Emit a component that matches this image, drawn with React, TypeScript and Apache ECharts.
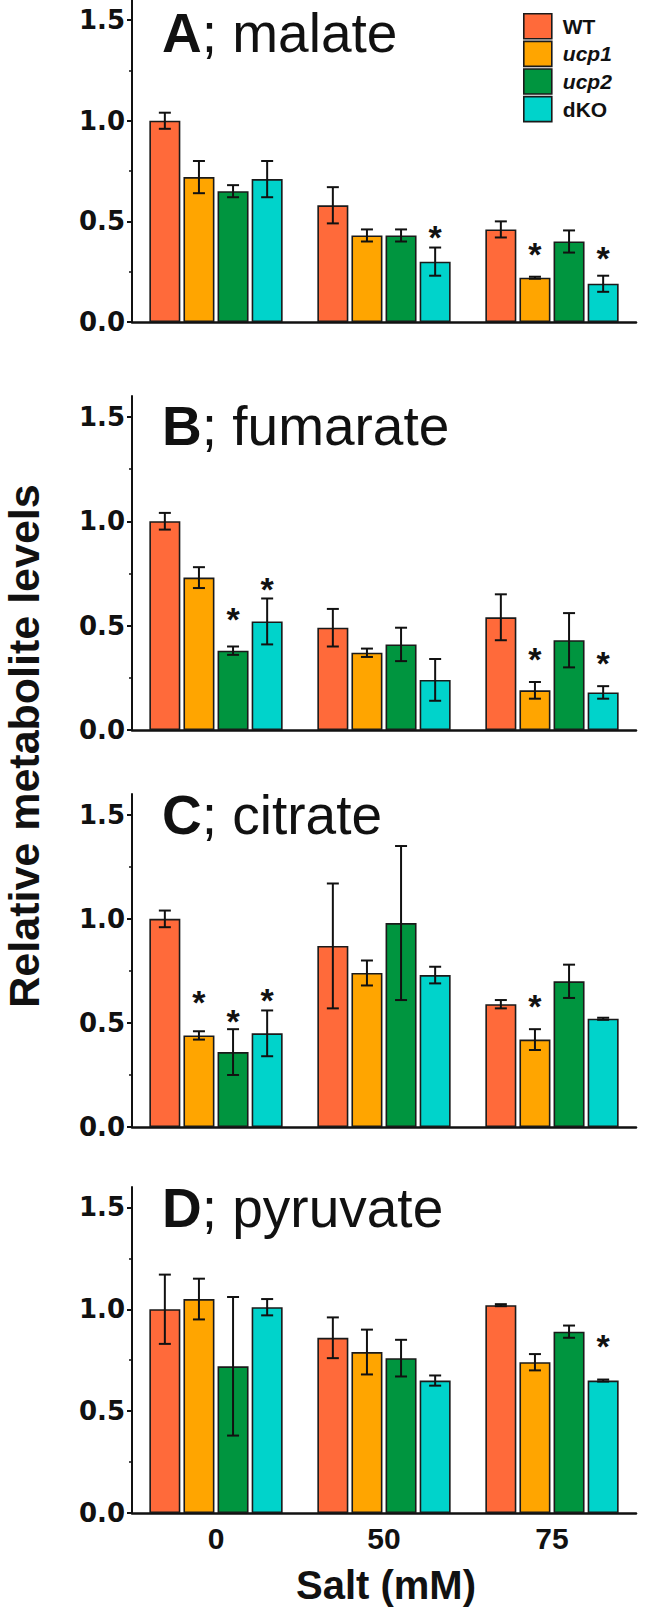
import React, { useEffect, useRef } from 'react';
import * as echarts from 'echarts';

const FONT = '"Liberation Sans", Arial, Helvetica, sans-serif';
const WIDE_FONT = '"DejaVu Sans", "Liberation Sans", Arial, sans-serif';

const salt = ['0', '50', '75'];
const genotypes = ['WT', 'ucp1', 'ucp2', 'dKO'];
const colors = ['#FF6A3A', '#FFA500', '#00953F', '#00D3CB'];
const yTicks = [0, 0.5, 1.0, 1.5];
const yMinorTicks = [0.25, 0.75, 1.25];

// [genotype][salt]
const malateMean = [[1.0, 0.58, 0.46], [0.72, 0.43, 0.22], [0.65, 0.43, 0.40], [0.71, 0.30, 0.19]];
const malateErr = [[0.04, 0.09, 0.04], [0.08, 0.03, 0.005], [0.03, 0.03, 0.055], [0.09, 0.07, 0.04]];
const malateStars = [[1, 3, 0.45], [2, 1, 0.37], [2, 3, 0.35]];

const fumarateMean = [[1.0, 0.49, 0.54], [0.73, 0.37, 0.19], [0.38, 0.41, 0.43], [0.52, 0.24, 0.18]];
const fumarateErr = [[0.04, 0.09, 0.11], [0.05, 0.02, 0.04], [0.02, 0.08, 0.13], [0.11, 0.10, 0.03]];
const fumarateStars = [[0, 2, 0.56], [0, 3, 0.705], [2, 1, 0.37], [2, 3, 0.35]];

const citrateMean = [[1.0, 0.87, 0.59], [0.44, 0.74, 0.42], [0.36, 0.98, 0.70], [0.45, 0.73, 0.52]];
const citrateErr = [[0.04, 0.30, 0.02], [0.02, 0.06, 0.05], [0.11, 0.37, 0.08], [0.11, 0.04, 0.005]];
const citrateStars = [[0, 1, 0.63], [0, 2, 0.54], [0, 3, 0.64], [2, 1, 0.61]];

const pyruvateMean = [[1.0, 0.86, 1.02], [1.05, 0.79, 0.74], [0.72, 0.76, 0.89], [1.01, 0.65, 0.65]];
const pyruvateErr = [[0.17, 0.10, 0.005], [0.10, 0.11, 0.04], [0.34, 0.09, 0.03], [0.04, 0.025, 0.005]];
const pyruvateStars = [[2, 3, 0.85]];

const panelLetters = ['A', 'B', 'C', 'D'];
const panelNames = ['; malate', '; fumarate', '; citrate', '; pyruvate'];

const yTitle = 'Relative metabolite levels';
const xTitle = 'Salt (mM)';

const means = [malateMean, fumarateMean, citrateMean, pyruvateMean];
const errs = [malateErr, fumarateErr, citrateErr, pyruvateErr];
const stars = [malateStars, fumarateStars, citrateStars, pyruvateStars];

// layout
const GRID_LEFT = 132;
const GRID_WIDTH = 504;
const gridTops = [0, 396, 794, 1187];
const gridHeights = [322, 334, 333, 326];
const titleY = [33, 426, 815, 1208];
const BAR_W = 31;
const BAR_STEP = 34.1;

export default function App() {
  const ref = useRef<HTMLDivElement>(null);

  useEffect(() => {
    if (!ref.current) return;
    const chart = echarts.init(ref.current, null, { renderer: 'svg' });

    const grids: any[] = [];
    const xAxes: any[] = [];
    const yAxes: any[] = [];
    const series: any[] = [];
    const graphics: any[] = [];

    for (let p = 0; p < 4; p++) {
      grids.push({ left: GRID_LEFT, width: GRID_WIDTH, top: gridTops[p], height: gridHeights[p], containLabel: false });
      xAxes.push({
        gridIndex: p,
        type: 'category',
        data: salt,
        axisLine: { show: true, lineStyle: { color: '#111', width: 2.5 } },
        axisTick: { show: false },
        axisLabel: {
          show: p === 3,
          fontSize: 30,
          fontWeight: 'bold',
          fontFamily: FONT,
          color: '#111',
          margin: 10,
        },
        splitLine: { show: false },
      });
      yAxes.push({
        gridIndex: p,
        type: 'value',
        min: 0,
        max: 1.6,
        interval: 0.5,
        axisLine: { show: true, lineStyle: { color: '#111', width: 2 } },
        axisTick: { show: true, length: 5, lineStyle: { color: '#111', width: 2 }, customValues: yTicks },
        axisLabel: {
          customValues: yTicks,
          formatter: (v: number) => v.toFixed(1),
          fontSize: 26,
          fontWeight: 'bold',
          fontFamily: WIDE_FONT,
          color: '#111',
          margin: 7,
        },
        splitLine: { show: false },
      });
      yAxes.push({
        gridIndex: p,
        type: 'value',
        min: 0,
        max: 1.6,
        position: 'left',
        axisLine: { show: false },
        axisTick: { show: true, length: 3, lineStyle: { color: '#111', width: 1.5 }, customValues: yMinorTicks },
        axisLabel: { show: false },
        splitLine: { show: false },
      });

      for (let g = 0; g < 4; g++) {
        series.push({
          type: 'bar',
          name: genotypes[g],
          xAxisIndex: p,
          yAxisIndex: p * 2,
          data: means[p][g],
          barWidth: BAR_W,
          barGap: '10%',
          itemStyle: { color: colors[g], borderColor: '#1a1a1a', borderWidth: 1.6 },
          z: 2,
        });
      }

      const errData: number[][] = [];
      for (let g = 0; g < 4; g++) {
        for (let c = 0; c < 3; c++) {
          errData.push([c, g, means[p][g][c], errs[p][g][c]]);
        }
      }
      series.push({
        type: 'custom',
        xAxisIndex: p,
        yAxisIndex: p * 2,
        z: 5,
        data: errData,
        renderItem: (params: any, api: any) => {
          const c = api.value(0);
          const g = api.value(1);
          const m = api.value(2);
          const e = api.value(3);
          const cx = api.coord([c, 0])[0] + (g - 1.5) * BAR_STEP;
          const top = api.coord([c, m + e])[1];
          const bot = api.coord([c, m - e])[1];
          const st = { stroke: '#111', lineWidth: 2 };
          return {
            type: 'group',
            children: [
              { type: 'line', shape: { x1: cx, y1: top, x2: cx, y2: bot }, style: st },
              { type: 'line', shape: { x1: cx - 6, y1: top, x2: cx + 6, y2: top }, style: st },
              { type: 'line', shape: { x1: cx - 6, y1: bot, x2: cx + 6, y2: bot }, style: st },
            ],
          };
        },
      });

      series.push({
        type: 'custom',
        xAxisIndex: p,
        yAxisIndex: p * 2,
        z: 6,
        data: stars[p],
        renderItem: (params: any, api: any) => {
          const c = api.value(0);
          const g = api.value(1);
          const y = api.value(2);
          const cx = api.coord([c, 0])[0] + (g - 1.5) * BAR_STEP;
          const cy = api.coord([c, y])[1];
          return {
            type: 'text',
            x: cx,
            y: cy + 6,
            style: {
              text: '*',
              font: `bold 34px ${FONT}`,
              fill: '#111',
              align: 'center',
              verticalAlign: 'middle',
            },
          };
        },
      });

      graphics.push({
        type: 'text',
        x: 162,
        y: titleY[p],
        style: {
          text: `{b|${panelLetters[p]}}{r|${panelNames[p]}}`,
          verticalAlign: 'middle',
          align: 'left',
          rich: {
            b: { fontSize: 55, fontWeight: 'bold', fontFamily: FONT, fill: '#111', lineHeight: 56 },
            r: { fontSize: 55, fontFamily: FONT, fill: '#111', lineHeight: 56 },
          },
        },
      });
    }

    graphics.push({
      type: 'text',
      x: 24,
      y: 746,
      rotation: Math.PI / 2,
      style: {
        text: yTitle,
        font: `bold 43px ${FONT}`,
        fill: '#111',
        align: 'center',
        verticalAlign: 'middle',
      },
    });
    graphics.push({
      type: 'text',
      x: 386,
      y: 1585,
      style: {
        text: xTitle,
        font: `bold 40px ${FONT}`,
        fill: '#111',
        align: 'center',
        verticalAlign: 'middle',
      },
    });

    chart.setOption({
      animation: false,
      backgroundColor: '#ffffff',
      grid: grids,
      xAxis: xAxes,
      yAxis: yAxes,
      series,
      graphic: graphics,
      legend: {
        orient: 'vertical',
        left: 518,
        top: 8,
        itemWidth: 28,
        itemHeight: 25,
        itemGap: 1,
        icon: 'rect',
        data: genotypes,
        itemStyle: { borderColor: '#1a1a1a', borderWidth: 1.6 },
        formatter: (n: string) => (n.startsWith('ucp') ? `{i|${n}}` : `{n|${n}}`),
        textStyle: {
          fontSize: 21,
          fontWeight: 'bold',
          fontFamily: FONT,
          color: '#111',
          rich: {
            n: { fontSize: 21, fontWeight: 'bold', fontFamily: FONT, color: '#111', padding: [0, 0, 0, 6] },
            i: { fontSize: 21, fontWeight: 'bold', fontStyle: 'italic', fontFamily: FONT, color: '#111', padding: [0, 0, 0, 6] },
          },
        },
      },
    });

    return () => chart.dispose();
  }, []);

  return (
    <div
      ref={ref}
      style={{ position: 'absolute', left: 0, top: 0, width: 650, height: 1608, background: '#fff' }}
    />
  );
}
